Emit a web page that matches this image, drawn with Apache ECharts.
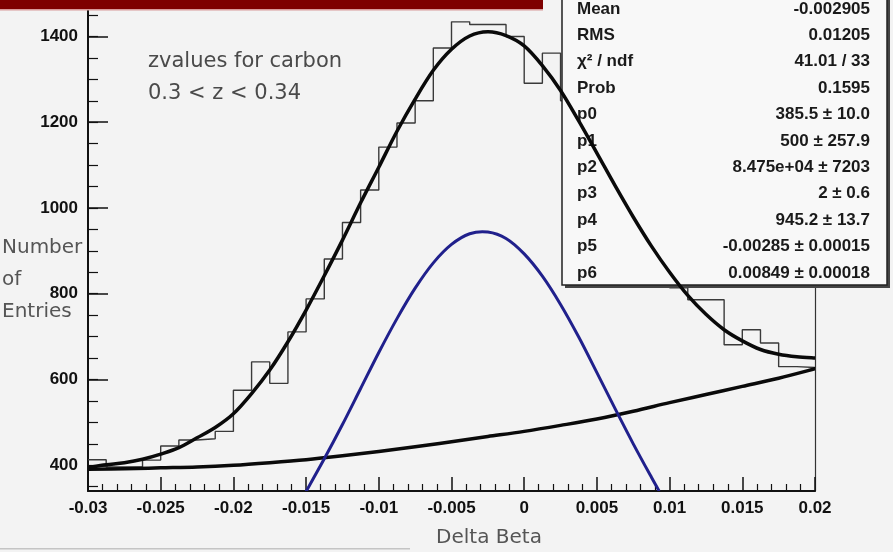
<!DOCTYPE html>
<html><head><meta charset="utf-8">
<script src="https://cdn.jsdelivr.net/npm/echarts@6/dist/echarts.min.js"></script>
<style>html,body{margin:0;padding:0;background:#f3f3f3;}#c{width:893px;height:552px;}</style>
</head><body><div id="c"></div>
<script>
// ---- data ----
const binStart = -0.03;
const binWidth = 0.00125;
const binCounts = [413, 396, 396, 412, 445, 459, 462, 479, 575, 641,
                   591, 711, 788, 881, 966, 1042, 1142, 1198, 1250, 1373,
                   1434, 1428, 1428, 1400, 1291, 1361, 1250, 1150, 1095, 1000,
                   955, 880, 814, 786, 786, 681, 716, 685, 630, 628];
const totalX = [-0.03, -0.02875, -0.0275, -0.02625, -0.025, -0.02375, -0.0225, -0.02125, -0.02, -0.01875,
                -0.0175, -0.01625, -0.015, -0.01375, -0.0125, -0.01125, -0.01, -0.00875, -0.0075, -0.00625,
                -0.005, -0.00375, -0.0025, -0.00125, 0, 0.00125, 0.0025, 0.00375, 0.005, 0.00625,
                0.0075, 0.00875, 0.01, 0.01125, 0.0125, 0.01375, 0.015, 0.01625, 0.0175, 0.01875, 0.02];
const totalFit = [395, 401, 406, 414, 426, 441, 464, 488, 520, 567,
                  622, 688, 762, 842, 925, 1012, 1095, 1179, 1254, 1321,
                  1370, 1401, 1411, 1402, 1378, 1332, 1274, 1203, 1128, 1052,
                  979, 911, 850, 796, 752, 716, 690, 670, 659, 653, 650];
const backgroundX = [-0.03, -0.0275, -0.025, -0.0225, -0.02, -0.0175, -0.015, -0.0125, -0.01, -0.0075,
                     -0.005, -0.0025, 0, 0.0025, 0.005, 0.0075, 0.01, 0.0125, 0.015, 0.0175, 0.02];
const backgroundFit = [391, 392, 394, 396, 400, 406, 413, 422, 432, 443,
                       455, 467, 479, 493, 508, 526, 546, 565, 584, 603, 625];
const gaussX = [-0.015, -0.01375, -0.0125, -0.01125, -0.01, -0.00875, -0.0075, -0.00625, -0.005,
                -0.00375, -0.0025, -0.00125, 0, 0.00125, 0.0025, 0.00375, 0.005, 0.00625, 0.0075,
                0.00875, 0.00925];
const gaussFit = [339, 415, 495, 579, 663, 742, 813, 872, 915,
                  940, 944, 929, 893, 841, 775, 699, 616, 532, 450,
                  372, 342];
const yMajorTicks = [400, 600, 800, 1000, 1200, 1400];
const yMinorTicks = [350, 400, 450, 500, 550, 600, 650, 700, 750, 800, 850, 900, 950, 1000,
                     1050, 1100, 1150, 1200, 1250, 1300, 1350, 1400, 1450];
const statLabels = ['Mean', 'RMS', 'χ² / ndf', 'Prob', 'p0', 'p1', 'p2', 'p3', 'p4', 'p5', 'p6'];
const statValues = ['-0.002905', '0.01205', '41.01 / 33', '0.1595', '385.5 ± 10.0', '500 ± 257.9',
                    '8.475e+04 ± 7203', '2 ± 0.6', '945.2 ± 13.7', '-0.00285 ± 0.00015', '0.00849 ± 0.00018'];
const titleLines = ['zvalues for carbon', '0.3 < z < 0.34'];
const yTitleLines = ['Number', 'of', 'Entries'];
const xTitle = 'Delta Beta';

// ---- build ----
const histData = binCounts.map((c, i) => [binStart + i * binWidth, c]);
histData.push([binStart + binCounts.length * binWidth, binCounts[binCounts.length - 1]]);
const pair = (xs, ys) => xs.map((x, i) => [x, ys[i]]);

// smooth curve through the data points (Catmull-Rom), positioned by the axes' scales
function splineSeries(name, xs, ys, color, width, z) {
  const data = pair(xs, ys);
  return {
    type: 'custom', name: name, z: z, clip: true, silent: true,
    data: data, encode: {x: 0, y: 1},
    renderItem: function (params, api) {
      if (params.dataIndex !== 0) return null;
      const pts = data.map(d => api.coord(d));
      let path = 'M' + pts[0][0] + ',' + pts[0][1];
      for (let i = 0; i < pts.length - 1; i++) {
        const p0 = pts[i - 1] || pts[i], p1 = pts[i], p2 = pts[i + 1], p3 = pts[i + 2] || pts[i + 1];
        const c1x = p1[0] + (p2[0] - p0[0]) / 6, c1y = p1[1] + (p2[1] - p0[1]) / 6;
        const c2x = p2[0] - (p3[0] - p1[0]) / 6, c2y = p2[1] - (p3[1] - p1[1]) / 6;
        path += ' C' + c1x + ',' + c1y + ' ' + c2x + ',' + c2y + ' ' + p2[0] + ',' + p2[1];
      }
      return {type: 'path', shape: {pathData: path},
        style: {fill: null, stroke: color, lineWidth: width, lineJoin: 'round', lineCap: 'round'}};
    }
  };
}

const tickFont = {color: '#111', fontFamily: 'Liberation Sans', fontWeight: 'bold', fontSize: 17};
const graphics = [];
// stats box
graphics.push({type: 'rect', z: 5, shape: {x: 565, y: -3, width: 325, height: 291}, style: {fill: '#444'}});
graphics.push({type: 'rect', z: 6, shape: {x: 562, y: -3, width: 325, height: 288},
  style: {fill: '#f8f8f8', stroke: '#222', lineWidth: 1.5}});
statLabels.forEach((t, i) => {
  graphics.push({type: 'text', z: 7, x: 577, y: 9 + i * 26.4,
    style: {text: t, fill: '#1a1a1a', font: 'bold 17px "Liberation Sans"', textAlign: 'left', textVerticalAlign: 'middle'}});
  graphics.push({type: 'text', z: 7, x: 870, y: 9 + i * 26.4,
    style: {text: statValues[i], fill: '#1a1a1a', font: 'bold 17px "Liberation Sans"', textAlign: 'right', textVerticalAlign: 'middle'}});
});
// banner
graphics.push({type: 'rect', z: 30, shape: {x: 0, y: 0, width: 543, height: 9}, style: {fill: '#7e0000'}});
graphics.push({type: 'rect', z: 30, shape: {x: 0, y: 9, width: 543, height: 1.5}, style: {fill: '#d89a9a'}});
// overlay text
titleLines.forEach((t, i) => {
  graphics.push({type: 'text', z: 8, x: 148, y: 62 + i * 32,
    style: {text: t, fill: '#4a4a4a', font: '21px "DejaVu Sans"', textAlign: 'left', textVerticalAlign: 'middle'}});
});
yTitleLines.forEach((t, i) => {
  graphics.push({type: 'text', z: 8, x: 2, y: 248 + i * 32,
    style: {text: t, fill: '#555', font: '20px "DejaVu Sans"', textAlign: 'left', textVerticalAlign: 'middle'}});
});
graphics.push({type: 'text', z: 8, x: 489, y: 538,
  style: {text: xTitle, fill: '#555', font: '20px "DejaVu Sans"', textAlign: 'center', textVerticalAlign: 'middle'}});
graphics.push({type: 'rect', z: 8, shape: {x: 0, y: 548, width: 410, height: 1.5}, style: {fill: '#c4c4c4'}});

const chart = echarts.init(document.getElementById('c'), null, {renderer: 'canvas'});
chart.setOption({
  animation: false,
  backgroundColor: '#f3f3f3',
  grid: {left: 88, right: 78, top: 0, bottom: 61, containLabel: false},
  xAxis: {
    type: 'value', min: -0.03, max: 0.02, interval: 0.005,
    axisLine: {onZero: false, lineStyle: {color: '#111', width: 2}},
    axisTick: {inside: true, length: 14, lineStyle: {color: '#111', width: 1.5}},
    minorTick: {show: true, splitNumber: 5, length: 7, lineStyle: {color: '#111', width: 1.2}},
    splitLine: {show: false},
    axisLabel: Object.assign({margin: 9, formatter: v => String(Math.round(v * 1000) / 1000)}, tickFont)
  },
  yAxis: [
    {
      type: 'value', min: 340, max: 1485, position: 'left',
      axisLine: {show: true, onZero: false, lineStyle: {color: '#111', width: 2}},
      axisTick: {inside: true, length: 20, customValues: yMajorTicks, lineStyle: {color: '#111', width: 1.5}},
      axisLabel: Object.assign({margin: 10, customValues: yMajorTicks, formatter: v => String(Math.round(v))}, tickFont),
      splitLine: {show: false}
    },
    {
      type: 'value', min: 340, max: 1485, position: 'left', offset: 0,
      axisLine: {show: false, onZero: false},
      axisTick: {inside: true, length: 10, customValues: yMinorTicks, lineStyle: {color: '#111', width: 1.2}},
      axisLabel: {show: false},
      splitLine: {show: false}
    },
    {
      type: 'value', min: 340, max: 1485, position: 'right',
      axisLine: {show: true, onZero: false, lineStyle: {color: '#333', width: 1.2}},
      axisTick: {show: false}, axisLabel: {show: false}, splitLine: {show: false}
    }
  ],
  series: [
    {type: 'line', name: 'hist', step: 'end', data: histData, yAxisIndex: 0, symbol: 'none', z: 2,
      lineStyle: {color: '#3a3a3a', width: 1.4}},
    splineSeries('background', backgroundX, backgroundFit, '#0a0a0a', 3.5, 3),
    splineSeries('gauss', gaussX, gaussFit, '#20208c', 3, 3),
    splineSeries('total', totalX, totalFit, '#0a0a0a', 3.5, 10)
  ],
  graphic: {elements: graphics}
});
</script></body></html>
